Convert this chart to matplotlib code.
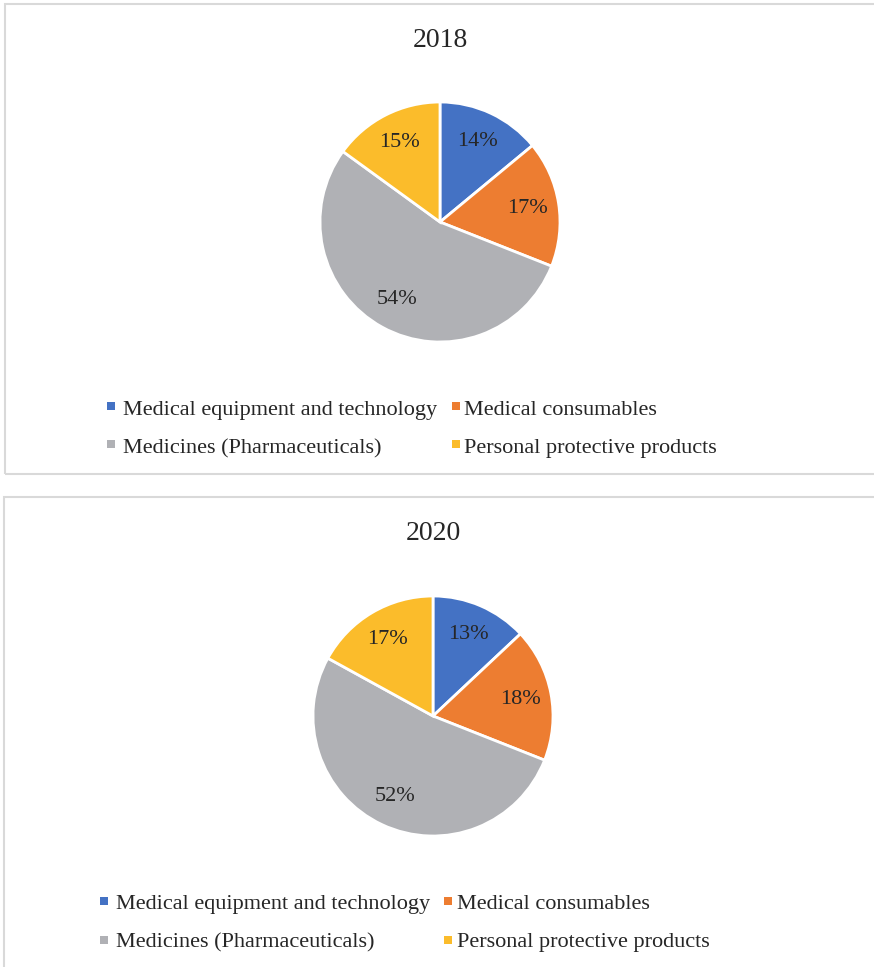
import matplotlib
matplotlib.use("Agg")
import matplotlib.pyplot as plt
from matplotlib.patches import Rectangle

categories = ["Medical equipment and technology", "Medical consumables",
              "Medicines (Pharmaceuticals)", "Personal protective products"]
values_2018 = [14, 17, 54, 15]
values_2020 = [13, 18, 52, 17]
years = ["2018", "2020"]
colors = ["#4472C4", "#ED7D31", "#B0B1B5", "#FBBC2B"]

W, H = 874, 967
plt.rcParams['font.family'] = ['Liberation Serif', 'DejaVu Serif']
fig = plt.figure(figsize=(W / 100, H / 100), dpi=100)

def fx(x):
    return x / W

def fy(y):
    return 1 - y / H

panels = [
    dict(vals=values_2018, year=years[0], box=(5, 4, 880, 474), cx=440, cy=222,
         ty=47, lx=(111, 456), ltx=(123, 464), my=(406, 444), by=(415, 453)),
    dict(vals=values_2020, year=years[1], box=(4, 497, 880, 1000), cx=433, cy=716,
         ty=540, lx=(104, 448), ltx=(116, 457), my=(901, 940), by=(909, 947)),
]

R = 120
for p in panels:
    x0, y0, x1, y1 = p["box"]
    fig.patches.append(Rectangle((fx(x0), fy(y1)), fx(x1 - x0), (y1 - y0) / H,
                                 transform=fig.transFigure, fill=False,
                                 edgecolor="#D9D9D9", linewidth=1.5, zorder=0))
    ax = fig.add_axes([fx(p["cx"] - R), fy(p["cy"] + R), fx(2 * R), 2 * R / H])
    ax.pie(p["vals"], colors=colors, startangle=90, counterclock=False,
           autopct=lambda v: f"{v:.0f}%", pctdistance=0.74,
           wedgeprops=dict(edgecolor="white", linewidth=2),
           textprops=dict(fontsize=16, color="#262626"), radius=1)
    ax.set_xlim(-1, 1)
    ax.set_ylim(-1, 1)
    ax.set_aspect("equal")
    ax.axis("off")
    fig.text(fx(p["cx"]), fy(p["ty"]), p["year"], ha="center", va="baseline",
             fontsize=20, color="#262626")
    for i, cat in enumerate(categories):
        col, row = i % 2, i // 2
        mx = p["lx"][col]
        my = p["my"][row]
        s = 8
        fig.patches.append(Rectangle((fx(mx - s / 2), fy(my + s / 2)), s / W, s / H,
                                     transform=fig.transFigure, facecolor=colors[i],
                                     edgecolor="none"))
        fig.text(fx(p["ltx"][col]), fy(p["by"][row]), cat, ha="left", va="baseline",
                 fontsize=16, color="#262626")

fig.savefig("out.png", dpi=100, facecolor="white")
